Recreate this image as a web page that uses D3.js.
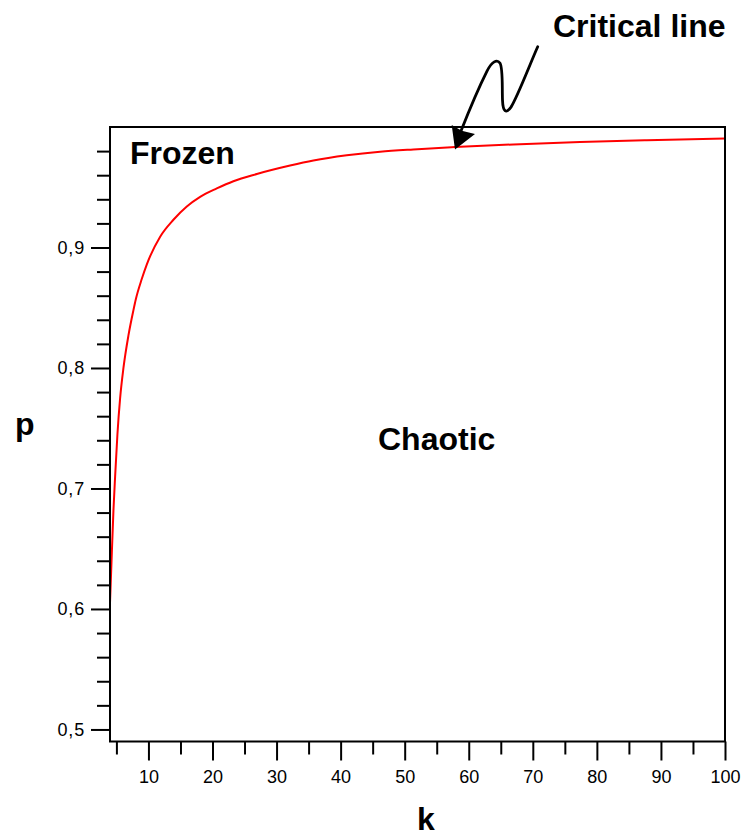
<!DOCTYPE html>
<html>
<head>
<meta charset="utf-8">
<script src="https://cdn.jsdelivr.net/npm/d3@7"></script>
<style>
  html, body { margin: 0; padding: 0; background: #fff; }
  svg { display: block; }
  text { font-family: "Liberation Sans", Arial, Helvetica, sans-serif; }
</style>
</head>
<body>
<svg id="chart" width="742" height="838"></svg>
<script>
// ---- data ----
const kValues = [4.0, 4.29, 4.54, 4.80, 5.16, 5.58, 6.10, 6.88, 7.66, 8.03, 8.97, 9.75,
                 11.83, 13.90, 15.99, 18.07, 20.67, 23.26, 26.92, 32.11, 35.75, 40.96, 46.16,
                 51.35, 57.86, 66.96, 77.37, 87.78, 100];
const pValues = [0.605, 0.647, 0.682, 0.710, 0.745, 0.775, 0.800, 0.827, 0.848, 0.857, 0.874, 0.886,
                 0.909, 0.923, 0.934, 0.942, 0.949, 0.955, 0.961, 0.968, 0.9722, 0.9765, 0.9795,
                 0.9814, 0.9833, 0.9855, 0.9876, 0.9891, 0.9905];
const xMajorTicks = [10, 20, 30, 40, 50, 60, 70, 80, 90, 100];
const xMinorTicks = [5, 15, 25, 35, 45, 55, 65, 75, 85, 95];
const yMajorTicks = [0.5, 0.6, 0.7, 0.8, 0.9];
const yMinorTicks = [0.52, 0.54, 0.56, 0.58, 0.62, 0.64, 0.66, 0.68, 0.72, 0.74, 0.76, 0.78,
                     0.82, 0.84, 0.86, 0.88, 0.92, 0.94, 0.96, 0.98];
const yTickLabels = ["0,5", "0,6", "0,7", "0,8", "0,9"];
const arrowTarget = {k: 57.86, p: 0.9833};

const svg = d3.select("#chart");
const L = 110, R = 725, T = 127, B = 741.5;

const x = d3.scaleLinear().domain([4, 100]).range([L, R]);
const y = d3.scaleLinear().domain([0.49, 1.0]).range([B, T]);

// axes
function styleAxis(g) {
  g.select(".domain").remove();
  g.selectAll(".tick line").attr("stroke", "#000").attr("stroke-width", 2);
  g.selectAll(".tick text").attr("fill", "#000").style("font-size", "18px")
    .style("font-family", '"Liberation Sans", Arial, sans-serif');
}

svg.append("g").attr("transform", `translate(0,${B})`)
  .call(d3.axisBottom(x).tickValues(xMinorTicks).tickSize(13).tickFormat(""))
  .call(styleAxis);
svg.append("g").attr("transform", `translate(0,${B})`)
  .call(d3.axisBottom(x).tickValues(xMajorTicks).tickSize(19).tickPadding(10).tickFormat(d3.format("d")))
  .call(styleAxis);

svg.append("g").attr("transform", `translate(${L},0)`)
  .call(d3.axisLeft(y).tickValues(yMinorTicks).tickSize(13).tickFormat(""))
  .call(styleAxis);
svg.append("g").attr("transform", `translate(${L},0)`)
  .call(d3.axisLeft(y).tickValues(yMajorTicks).tickSize(19).tickPadding(6)
    .tickFormat((d, i) => yTickLabels[i]))
  .call(styleAxis)
  .call(g => g.selectAll(".tick text").style("letter-spacing", "0.8px"));

// curve
const data = kValues.map((k, i) => ({k, p: pValues[i]}));
svg.append("path")
  .datum(data)
  .attr("fill", "none")
  .attr("stroke", "#ff0000")
  .attr("stroke-width", 2)
  .attr("d", d3.line().x(d => x(d.k)).y(d => y(d.p)).curve(d3.curveMonotoneX));

// frame
svg.append("rect")
  .attr("x", L).attr("y", T).attr("width", R - L).attr("height", B - T)
  .attr("fill", "none").attr("stroke", "#000").attr("stroke-width", 2);

// text labels
const bold = (t, xx, yy, size) => svg.append("text").attr("x", xx).attr("y", yy)
  .attr("font-weight", "bold").style("font-size", size + "px").attr("fill", "#000").text(t);
bold("Frozen", 130, 164, 32);
bold("Chaotic", 378, 450, 32);
bold("Critical line", 553, 37, 32);
bold("p", 15, 435, 32);
bold("k", 417, 830, 32);

// annotation arrow (anchored on the curve point via the scales)
const tx = x(arrowTarget.k), ty = y(arrowTarget.p) + 1;
const P = (dx, dy) => `${(tx + dx).toFixed(1)},${(ty + dy).toFixed(1)}`;
const arrowD = `M${P(82.7,-101.3)} C${P(75,-84)} ${P(62,-50)} ${P(56,-41)}` +
  ` C${P(51,-34)} ${P(48,-36)} ${P(47.5,-48)}` +
  ` C${P(47,-62)} ${P(48,-80)} ${P(45,-85)}` +
  ` C${P(42,-89)} ${P(37,-87)} ${P(32,-77)}` +
  ` C${P(25,-63)} ${P(15,-40)} ${P(6,-17)}`;
svg.append("path")
  .attr("d", arrowD)
  .attr("fill", "none").attr("stroke", "#000").attr("stroke-width", 2.8)
  .attr("stroke-linecap", "round").attr("stroke-linejoin", "round");
svg.append("path")
  .attr("fill", "#000").attr("stroke", "none")
  .attr("d", `M${P(-3.3,-23)} L${P(0,1.3)} L${P(20,-14)} L${P(6.7,-17.3)} Z`);
</script>
</body>
</html>
